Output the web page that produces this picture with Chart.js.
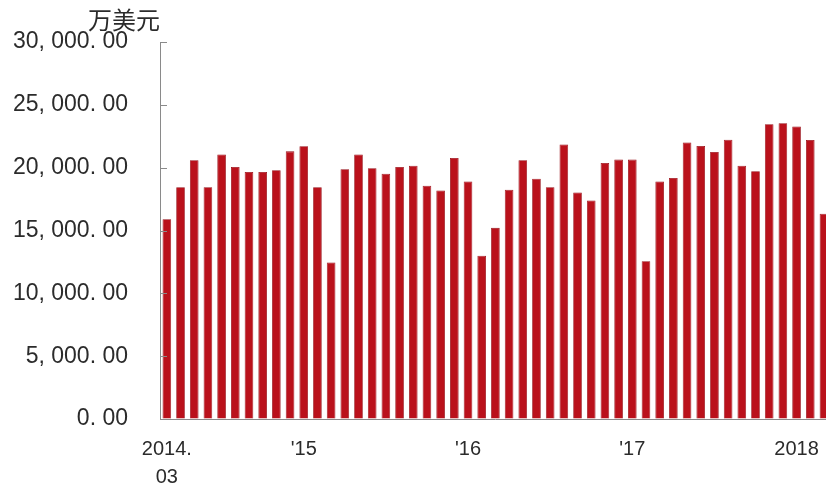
<!DOCTYPE html>
<html>
<head>
<meta charset="utf-8">
<script src="https://cdn.jsdelivr.net/npm/chart.js@4/dist/chart.umd.min.js"></script>
<style>
  html, body { margin: 0; padding: 0; background: #ffffff; overflow: hidden; width: 826px; height: 489px; }
  #c { display: block; }
</style>
</head>
<body>
<canvas id="c" width="840" height="489"></canvas>
<script>
const categories = [
  '2014.03','2014.04','2014.05','2014.06','2014.07','2014.08','2014.09','2014.10','2014.11','2014.12',
  '2015.01','2015.02','2015.03','2015.04','2015.05','2015.06','2015.07','2015.08','2015.09','2015.10','2015.11','2015.12',
  '2016.01','2016.02','2016.03','2016.04','2016.05','2016.06','2016.07','2016.08','2016.09','2016.10','2016.11','2016.12',
  '2017.01','2017.02','2017.03','2017.04','2017.05','2017.06','2017.07','2017.08','2017.09','2017.10','2017.11','2017.12',
  '2018.01','2018.02','2018.03'
];
const values = [
  15900, 18450, 20600, 18450, 21050, 20050, 19650, 19650, 19800, 21300,
  21700, 18450, 12450, 19870, 21050, 19950, 19520, 20050, 20160, 18560, 18190, 20770,
  18900, 13000, 15210, 18250, 20590, 19120, 18450, 21840, 18030, 17390, 20370, 20640,
  20640, 12550, 18900, 19180, 22000, 21730, 21250, 22230, 20160, 19710, 23460, 23540,
  23270, 22210, 16330
];
const xTickLabels = {
  '2014.03': ['2014.', '03'],
  '2015.01': "'15",
  '2016.01': "'16",
  '2017.01': "'17",
  '2018.01': '2018'
};
const yTickValues = [0, 5000, 10000, 15000, 20000, 25000, 30000];
const yTickLabels = ['0. 00', '5, 000. 00', '10, 000. 00', '15, 000. 00', '20, 000. 00', '25, 000. 00', '30, 000. 00'];
const unitLabel = '万美元';

const axisColor = '#8a8a8a';
const textColor = '#2b2b2b';
const barColor = '#ba111b';

const extras = {
  id: 'extras',
  afterDraw(chart) {
    const ctx = chart.ctx;
    const y = chart.scales.y;
    const area = chart.chartArea;
    ctx.save();
    ctx.strokeStyle = axisColor;
    ctx.lineWidth = 1;
    y.ticks.forEach(t => {
      const py = Math.round(y.getPixelForValue(t.value)) + 0.5;
      ctx.beginPath();
      ctx.moveTo(area.left, py);
      ctx.lineTo(area.left + 7, py);
      ctx.stroke();
    });
    ctx.fillStyle = textColor;
    ctx.font = '24px "Noto Sans CJK SC", sans-serif';
    ctx.textAlign = 'right';
    ctx.textBaseline = 'middle';
    ctx.fillText(unitLabel, area.left, 20);
    ctx.restore();
  }
};

new Chart(document.getElementById('c'), {
  type: 'bar',
  data: {
    labels: categories,
    datasets: [{
      data: values,
      backgroundColor: barColor,
      borderColor: '#960c14',
      borderWidth: 0.8,
      barPercentage: 0.63,
      categoryPercentage: 1.0
    }]
  },
  options: {
    responsive: false,
    animation: false,
    layout: { padding: { top: 42, right: 5, bottom: 0, left: 0 } },
    plugins: { legend: { display: false }, tooltip: { enabled: false }, title: { display: false } },
    scales: {
      x: {
        offset: true,
        grid: { display: false, drawTicks: false },
        border: { display: true, color: axisColor, width: 1 },
        ticks: {
          autoSkip: false,
          maxRotation: 0,
          minRotation: 0,
          padding: 16,
          color: textColor,
          font: { family: '"Liberation Sans", Arial, sans-serif', size: 20, lineHeight: 1.4 },
          callback: (v, i) => xTickLabels[categories[i]] || ''
        },
        afterFit: s => { s.height = 70; }
      },
      y: {
        min: 0,
        max: 30000,
        grid: { display: true, drawOnChartArea: false, drawTicks: true, tickLength: 32, color: 'rgba(0,0,0,0)' },
        border: { display: true, color: axisColor, width: 1 },
        afterBuildTicks: s => { s.ticks = yTickValues.map(v => ({ value: v })); },
        ticks: {
          padding: 0,
          color: textColor,
          font: { family: '"Liberation Sans", Arial, sans-serif', size: 23 },
          callback: (v) => yTickLabels[yTickValues.indexOf(v)]
        },
        afterFit: s => { s.width = 160; }
      }
    }
  },
  plugins: [extras]
});
</script>
</body>
</html>
